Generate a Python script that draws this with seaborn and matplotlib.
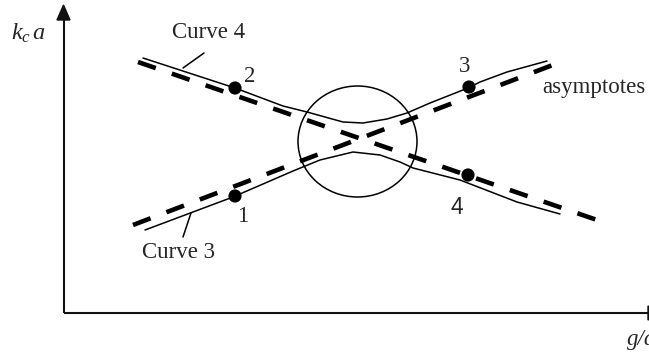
import matplotlib
matplotlib.use("Agg")
import matplotlib.pyplot as plt
import seaborn as sns
from matplotlib.patches import Ellipse, Polygon

sns.set_style("white")
plt.rcParams['font.family'] = ['Liberation Serif', 'DejaVu Serif']
plt.rcParams['mathtext.fontset'] = 'custom'
plt.rcParams['mathtext.it'] = 'Liberation Serif:italic'
plt.rcParams['mathtext.rm'] = 'Liberation Serif'

# Schematic data (drawing coordinates, y downward)
upper_x = [143, 235, 283, 307, 343, 363, 387, 407, 430, 468, 480, 507, 547]
upper_y = [58, 88, 106, 112, 122, 123, 119, 113, 103, 88, 82, 72, 61]
lower_x = [145, 233, 293, 320, 353, 380, 400, 413, 460, 517, 560]
lower_y = [230, 197, 171, 160, 152, 155, 162, 168, 180, 202, 214]
asym_a_x = [138, 597]
asym_a_y = [62, 220]
asym_b_x = [133, 558]
asym_b_y = [225, 63]
point_x = [235, 235, 469, 468]
point_y = [196, 88, 87, 175]
point_labels = ['1', '2', '3', '4']
label_x = [243, 250, 465, 457]
label_y = [217, 77, 67, 207]

fig = plt.figure(figsize=(6.49, 3.54), dpi=100)
ax = fig.add_axes([0, 0, 1, 1])
ax.set_xlim(0, 649)
ax.set_ylim(354, 0)
ax.axis('off')

# axes with arrows
ax.plot([64, 64], [313, 18], color='#111111', lw=1.5, solid_capstyle='butt')
ax.plot([64, 648], [313, 313], color='#111111', lw=1.5, solid_capstyle='butt')
ax.add_patch(Polygon([[57, 20], [70, 20], [63.5, 5]], closed=True, color='#111111'))
ax.add_patch(Polygon([[648, 306], [648, 320], [662, 313]], closed=True, color='#111111', clip_on=False))

# asymptotes
for xs, ys in [(asym_a_x, asym_a_y), (asym_b_x, asym_b_y)]:
    sns.lineplot(x=xs, y=ys, sort=False, estimator=None, ax=ax, color='black',
                 lw=3.3, linestyle=(0, (4.1, 3.7)), dash_capstyle='butt')

# curves
sns.lineplot(x=upper_x, y=upper_y, sort=False, estimator=None, ax=ax, color='black', lw=1.1)
sns.lineplot(x=lower_x, y=lower_y, sort=False, estimator=None, ax=ax, color='black', lw=1.1)

# circle
ax.add_patch(Ellipse((357.5, 141.5), 119, 111, fill=False, ec='black', lw=1.1))

# points
sns.scatterplot(x=point_x, y=point_y, ax=ax, color='black', s=90, edgecolor='none', zorder=5)

fs = 16.5
for lx, ly, t in zip(label_x, label_y, point_labels):
    fam = ['Liberation Sans'] if t == '4' else ['Liberation Serif']
    ax.text(lx, ly, t, fontsize=fs, ha='center', va='center', family=fam)

ax.text(209, 33, 'Curve 4', fontsize=fs, ha='center', va='center')
ax.text(179, 253, 'Curve 3', fontsize=fs, ha='center', va='center')
ax.text(542, 87, 'asymptotes', fontsize=fs, ha='left', va='center')
ax.plot([183, 204], [68, 53], color='black', lw=1.1)
ax.plot([183, 191], [237, 213], color='black', lw=1.1)

ax.text(11, 33, r'$k_c\,a$', fontsize=17.5, ha='left', va='center')
ax.text(627, 340, 'g/a', fontsize=fs, ha='left', va='center', style='italic')

fig.savefig('out.png', dpi=100)
